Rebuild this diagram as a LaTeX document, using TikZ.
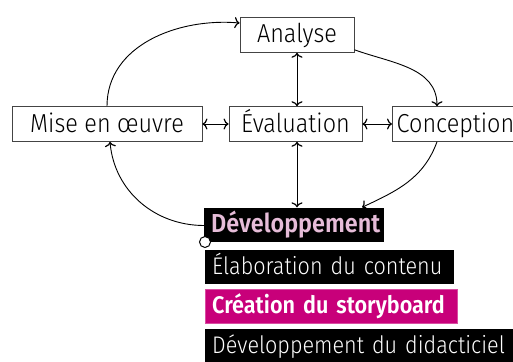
\documentclass[tikz,border=0pt]{standalone}
\usepackage{fontspec}
\setmainfont{Fira Sans}[UprightFont=* Light, BoldFont=* SemiBold, FakeStretch=0.9]
\usetikzlibrary{arrows.meta}
\definecolor{linegray}{HTML}{444444}
\definecolor{devpink}{HTML}{E6BCD8}
\definecolor{storymag}{HTML}{C8007A}
\begin{document}
\begin{tikzpicture}[x=1pt,y=-1pt,
  phase/.style={draw=linegray, line width=0.9pt, fill=white, minimum height=34pt,
    inner xsep=4pt, text height=22pt, text depth=6pt, font=\fontsize{26}{28}\selectfont},
  task/.style={anchor=west, fill=black, text=white, minimum height=34pt,
    inner xsep=7pt, align=left, text height=21pt, text depth=6pt,
    font=\fontsize{24}{26}\selectfont},
  flow/.style={line width=0.9pt, -{Computer Modern Rightarrow[length=5pt,width=11pt,line width=1.2pt]}},
  both/.style={line width=0.9pt, {Computer Modern Rightarrow[length=5pt,width=11pt,line width=1.2pt]}-{Computer Modern Rightarrow[length=5pt,width=11pt,line width=1.2pt]}}]
\useasboundingbox (0,0) rectangle (513,361);

% phases of the cycle
\node[phase, minimum width=114pt] (analyse) at (297,35) {Analyse};
\node[phase, minimum width=190pt] (mise) at (107,124) {Mise en œuvre};
\node[phase, minimum width=133pt] (eval) at (295.5,124) {Évaluation};
\node[phase, anchor=west, minimum width=126pt, inner xsep=3pt] (concep) at (392,124) {Conception};

% development block with its tasks
\node[task, text=devpink, font=\fontsize{26}{28}\selectfont\bfseries,
  text width=166pt] (dev) at (204,224.5) {Développement};
\node[task, text width=235pt] (elab) at (205,266.5) {Élaboration du contenu};
\node[task, fill=storymag, draw=storymag!70!white, font=\fontsize{24}{26}\selectfont\bfseries,
  text width=238pt] (story) at (205,306) {Création du storyboard};
\node[task, text width=300pt] (didac) at (205,345.5) {Développement du didacticiel};
\node[circle, draw=black, fill=white, line width=1pt, inner sep=0pt,
  minimum size=11pt] (knob) at (205,242) {};

% connectors
\draw[flow] (mise.north) to[out=90,in=175] ([yshift=12pt]analyse.west);
\draw[flow] ([yshift=3pt]analyse.south east) to[out=-20,in=90] (concep.north west -| 437,0);
\draw[both] (analyse.south) -- (eval.north -| analyse.south);
\draw[both] (mise.east) -- (eval.west);
\draw[both] (eval.east) -- (concep.west);
\draw[both] (eval.south -| 297,0) -- (dev.north -| 297,0);
\draw[flow] (concep.south -| 437,0) to[out=-110,in=25] (dev.north -| 362,0);
\draw[flow] ([yshift=-1pt]dev.west) to[out=180,in=-85] (mise.south -| 110,0);
\end{tikzpicture}
\end{document}
